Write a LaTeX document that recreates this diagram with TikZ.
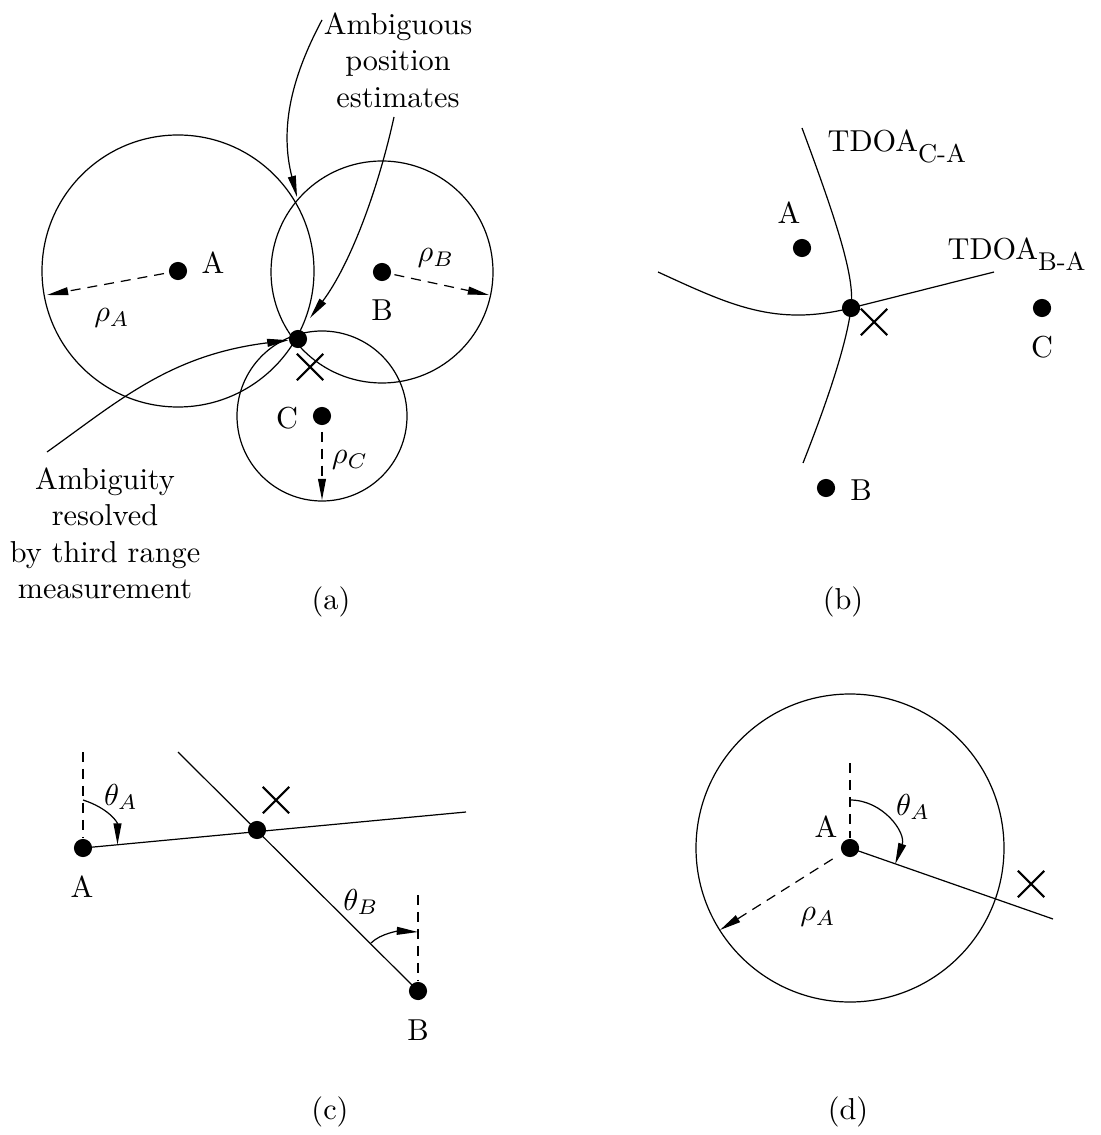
\documentclass[tikz,border=0pt]{standalone}
\usetikzlibrary{arrows.meta,shapes.misc}
\begin{document}
\begin{tikzpicture}[x=0.33pt,y=-0.33pt,
  every node/.style={inner sep=0pt, font=\fontsize{10}{12}\selectfont},
  ln/.style={line width=0.4pt},
  dsh/.style={dash pattern=on 3.3pt off 2.3pt},
  arr/.style={-{Triangle[length=7pt,width=2.6pt]}},
  dot/.style={circle, fill=black, minimum size=6pt, inner sep=0pt},
  xmark/.style={draw, cross out, minimum size=8pt, inner sep=0pt, line width=0.7pt},
  sub/.style={}]
\useasboundingbox (0,0) rectangle (1100,1135);

% ---------------- (a)
\node[dot] (aA) at (178,271) {};
\node[dot] (aB) at (382,272) {};
\node[dot] (aC) at (322,416) {};
\draw[ln] (aA.center) circle[radius=136];
\draw[ln] (aB.center) circle[radius=111];
\draw[ln] (aC.center) circle[radius=85];
\node[dot] (aI) at (298,339) {};
\node[xmark] (aX) at (310,367) {};
\coordinate (aAr) at (47,295);
\coordinate (aBr) at (489,295);
\coordinate (aCr) at (322,500);
\draw[ln,dsh,arr,shorten <=1.5pt] (aA) -- (aAr);
\draw[ln,dsh,arr,shorten <=1pt] (aB) -- (aBr);
\draw[ln,dsh,arr,shorten <=2pt] (aC) -- (aCr);
\node (aAl) at (213,263) {A};
\node (aBl) at (382,310) {B};
\node (aCl) at (287,418) {C};
\node (aRA) at (112,318) {$\rho_A$};
\node (aRB) at (436,258) {$\rho_B$};
\node (aRC) at (350,460) {$\rho_C$};
\node[align=center, anchor=north] (amb) at (398,12) {Ambiguous\\position\\estimates};
\node[align=center, anchor=north] (res) at (105,467) {Ambiguity\\resolved\\by third range\\measurement};
\node (capa) at (331,602) {(a)};
\coordinate (amb1) at (322,20);
\coordinate (aT1) at (297,197);
\coordinate (amb2) at (394,117);
\coordinate (aT2) at (310,318);
\coordinate (res1) at (47,452);
\draw[ln,arr] (amb1) .. controls (290,80) and (280,130) .. (aT1);
\draw[ln,arr] (amb2) .. controls (378,190) and (350,265) .. (aT2);
\draw[ln,arr] (res1) .. controls (120,400) and (170,355) .. (aI);

% ---------------- (b)
\node[dot] (bA) at (802,248) {};
\node[dot] (bB) at (826,488) {};
\node[dot] (bC) at (1042,308) {};
\node[dot] (bI) at (851,308) {};
\node[xmark] (bX) at (874,322) {};
\coordinate (bCA1) at (802,128);
\coordinate (bCA2) at (803,463);
\coordinate (bBA1) at (658,272);
\coordinate (bBA2) at (994,272);
\draw[ln] (bCA1) .. controls (840,230) and (855,280) .. (bI.center)
  .. controls (846,350) and (820,420) .. (bCA2);
\draw[ln] (bBA1) .. controls (730,305) and (775,327) .. (bI.center)
  .. controls (899,296) and (946,284) .. (bBA2);
\node (bAl) at (789,213) {A};
\node (bBl) at (861,490) {B};
\node (bCl) at (1042,347) {C};
\node[anchor=base west] (bTCA) at (827,152) {TDOA\raisebox{-3.6pt}{\fontsize{8.5}{10}\selectfont C-A}};
\node[anchor=base west] (bTBA) at (947,260) {TDOA\raisebox{-3.6pt}{\fontsize{8.5}{10}\selectfont B-A}};
\node (capb) at (843,602) {(b)};

% ---------------- (c)
\node[dot] (cA) at (83,848) {};
\node[dot] (cB) at (418,991) {};
\node[dot] (cI) at (257,830) {};
\node[xmark] (cX) at (276,800) {};
\coordinate (cL1) at (466,812);
\coordinate (cL2) at (178,752);
\draw[ln] (cA.center) -- (cL1);
\draw[ln] (cL2) -- (cB.center);
\coordinate (cAv) at (83,752);
\coordinate (cBv) at (418,895);
\draw[ln,dsh] (cAv) -- (cA);
\draw[ln,dsh] (cBv) -- (cB);
\coordinate (cAa) at (83,800);
\coordinate (cAt) at (117.5,844.7);
\coordinate (cBa) at (371,943);
\coordinate (cBt) at (418,932);
\draw[ln,arr] (cAa) .. controls (108,808) and (117.5,822) .. (cAt);
\draw[ln,arr] (cBa) .. controls (381,933) and (400,931) .. (cBt);
\node (cAl) at (82,887) {A};
\node (cBl) at (418,1030) {B};
\node (cTA) at (121,797) {$\theta_A$};
\node (cTB) at (361,902) {$\theta_B$};
\node (capc) at (330,1112) {(c)};

% ---------------- (d)
\node[dot] (dA) at (850,848) {};
\draw[ln] (dA.center) circle[radius=154];
\coordinate (dL) at (1053,919);
\draw[ln] (dA.center) -- (dL);
\node[xmark] (dX) at (1031,884) {};
\coordinate (dV) at (850,763);
\draw[ln,dsh] (dV) -- (dA);
\coordinate (dAa) at (850,800);
\coordinate (dAt) at (895.2,864.1);
\draw[ln,arr] (dAa) .. controls (883.2,800) and (906.3,832.8) .. (dAt);
\coordinate (dR) at (720,930);
\draw[ln,dsh,arr,shorten <=3.6pt] (dA) -- (dR);
\node (dAl) at (826,827) {A};
\node (dTA) at (913,807) {$\theta_A$};
\node (dRA) at (818,917) {$\rho_A$};
\node (capd) at (848,1112) {(d)};
\end{tikzpicture}
\end{document}
